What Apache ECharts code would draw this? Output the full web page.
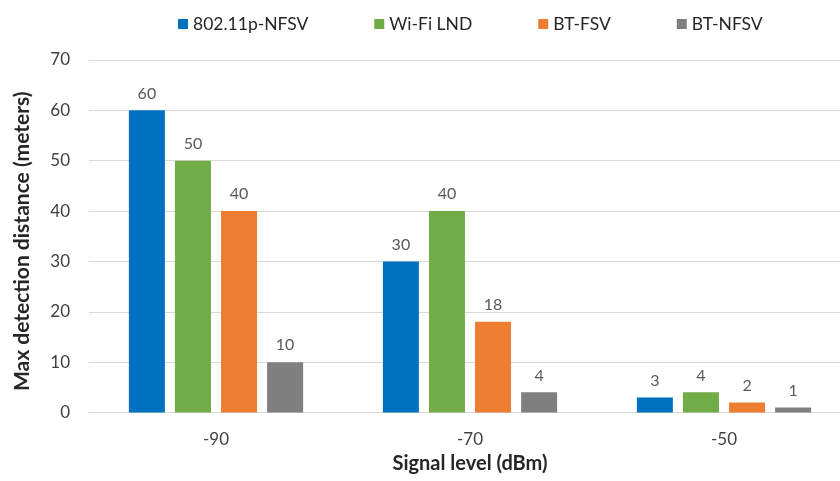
<!DOCTYPE html>
<html><head><meta charset="utf-8">
<script src="https://cdn.jsdelivr.net/npm/echarts@6/dist/echarts.min.js"></script>
<style>html,body{margin:0;padding:0;background:#fff}#c{width:840px;height:481px}</style>
</head><body><div id="c"></div>
<script>
const categories = ['-90', '-70', '-50'];
const seriesNames = ['802.11p-NFSV', 'Wi-Fi LND', 'BT-FSV', 'BT-NFSV'];
const nfsv80211p = [60, 30, 3];
const wifiLnd = [50, 40, 4];
const btFsv = [40, 18, 2];
const btNfsv = [10, 4, 1];
const colors = ['#0070C0', '#70AD47', '#ED7D31', '#7F7F7F'];
const values = [nfsv80211p, wifiLnd, btFsv, btNfsv];
const font = 'Lato, "Open Sans", sans-serif';
const chart = echarts.init(document.getElementById('c'));
chart.setOption({
  animation: false,
  textStyle: { fontFamily: font },
  legend: {
    top: 10, left: 173, itemWidth: 10, itemHeight: 10, itemGap: 66,
    icon: 'rect',
    textStyle: { fontSize: 17.5, color: '#262626', fontFamily: font },
    data: seriesNames
  },
  grid: { left: 89, width: 762, top: 60, bottom: 68.5, outerBoundsMode: 'none', containLabel: false },
  xAxis: {
    type: 'category', data: categories,
    axisTick: { show: false },
    axisLine: { lineStyle: { color: '#d9d9d9' } },
    axisLabel: { fontSize: 17, color: '#404040', margin: 19, fontFamily: font },
    name: 'Signal level (dBm)', nameLocation: 'middle', nameGap: 39,
    nameTextStyle: { fontSize: 20, fontWeight: 'bold', color: '#262626', fontFamily: font }
  },
  yAxis: {
    type: 'value', min: 0, max: 70, interval: 10,
    axisLine: { show: false }, axisTick: { show: false },
    splitLine: { lineStyle: { color: '#d9d9d9' } },
    axisLabel: { fontSize: 17, color: '#404040', margin: 19, fontFamily: font },
    name: 'Max detection distance (meters)', nameLocation: 'middle', nameGap: 56,
    nameTextStyle: { fontSize: 21, fontWeight: 'bold', color: '#262626', fontFamily: font, padding: [0, 10, 0, 0] }
  },
  series: seriesNames.map((n, i) => ({
    name: n, type: 'bar', data: values[i], barWidth: 36, barGap: '28%',
    itemStyle: { color: colors[i] },
    label: { show: true, position: 'top', distance: 9, fontSize: 16, color: '#595959', fontFamily: font }
  }))
});
</script></body></html>
